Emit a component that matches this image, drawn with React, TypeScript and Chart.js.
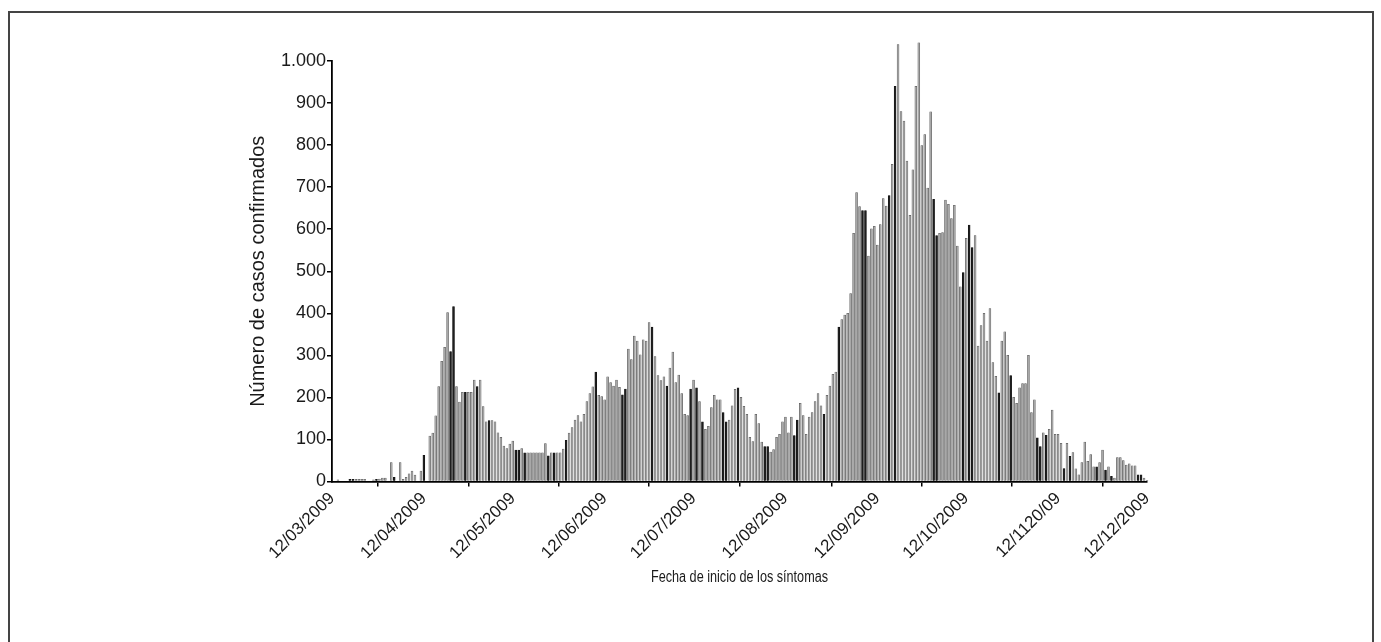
import { useEffect, useRef } from "react";
import { Chart, registerables } from "chart.js";

Chart.register(...registerables);

// Daily confirmed cases by symptom-onset date; index 0 = 12/03/2009, index 275 = 12/12/2009
const casesPerDay: number[] = [
  0, 0, 4, 0, 0, 0, 5, 5, 5, 5, 5, 5, 0, 0, 4, 5, 6, 8, 8, 0,
  45, 10, 0, 45, 5, 10, 18, 25, 15, 0, 25, 62, 0, 108, 115, 156, 226, 286, 319, 402,
  309, 416, 226, 189, 212, 212, 212, 212, 241, 226, 241, 178, 142, 145, 145, 142, 116, 105, 84, 78,
  89, 96, 75, 75, 78, 68, 68, 68, 68, 68, 68, 68, 90, 61, 68, 68, 68, 68, 77, 98,
  115, 128, 146, 157, 142, 160, 190, 209, 225, 260, 205, 202, 194, 249, 235, 227, 241, 224, 206, 220,
  315, 290, 346, 334, 301, 337, 334, 378, 367, 297, 252, 240, 249, 227, 270, 308, 235, 253, 209, 160,
  157, 220, 241, 223, 190, 142, 124, 131, 176, 205, 194, 194, 164, 142, 146, 180, 219, 223, 200, 179,
  160, 105, 95, 160, 138, 94, 83, 83, 70, 76, 105, 112, 142, 153, 116, 153, 109, 146, 186, 157,
  112, 153, 164, 190, 209, 180, 160, 205, 227, 255, 260, 367, 385, 396, 400, 447, 590, 687, 654, 644,
  644, 536, 601, 607, 562, 611, 673, 655, 680, 754, 940, 1039, 880, 857, 762, 633, 741, 940, 1043, 799,
  825, 698, 879, 671, 585, 590, 592, 669, 659, 625, 657, 560, 463, 497, 578, 610, 556, 585, 322, 371,
  400, 334, 411, 283, 250, 211, 334, 356, 300, 252, 200, 186, 223, 233, 233, 300, 164, 194, 104, 83,
  116, 110, 124, 170, 112, 112, 91, 31, 91, 60, 69, 30, 16, 45, 94, 48, 64, 35, 35, 45,
  75, 27, 35, 12, 8, 57, 57, 50, 39, 42, 37, 37, 16, 16, 8, 3,
];

// Days whose bars are printed in the darker shade
const darkDays: number[] = [
  6, 7, 15, 21, 31, 40, 41, 45, 49, 53, 62, 63, 65, 73, 75, 79, 89, 98, 99, 108,
  113, 121, 123, 125, 132, 133, 137, 146, 147, 156, 157, 166, 171, 179, 180, 188, 190, 203, 204, 213,
  215, 216, 225, 229, 238, 239, 241, 247, 249, 258, 261, 263, 272, 273,
];

const xTickDays: number[] = [0, 31, 61, 92, 122, 153, 184, 214, 245, 275];
const xTickLabels: string[] = [
  "12/03/2009", "12/04/2009", "12/05/2009", "12/06/2009", "12/07/2009",
  "12/08/2009", "12/09/2009", "12/10/2009", "12/1120/09", "12/12/2009",
];
const yTickValues: number[] = [0, 100, 200, 300, 400, 500, 600, 700, 800, 900, 1000];
const yTickLabels: string[] = ["0", "100", "200", "300", "400", "500", "600", "700", "800", "900", "1.000"];

const yTitle = "Número de casos confirmados";
const xTitle = "Fecha de inicio de los síntomas";

const W = 1381;
const H = 642;
const FONT = "'Liberation Sans', Arial, Helvetica, sans-serif";
const INK = "#1a1a1a";

// Horizontal axis title, set in a condensed face (regular glyphs squeezed horizontally)
const condensedXTitle = {
  id: "condensedXTitle",
  afterDraw(chart: any) {
    const { ctx, chartArea } = chart;
    const cx = (chartArea.left + chartArea.right) / 2;
    ctx.save();
    ctx.font = `16px ${FONT}`;
    ctx.fillStyle = INK;
    ctx.textAlign = "center";
    ctx.textBaseline = "middle";
    ctx.translate(cx, 578);
    ctx.scale(0.79, 1);
    ctx.fillText(xTitle, 0, 0);
    ctx.restore();
  },
};

export default function App() {
  const canvasRef = useRef<HTMLCanvasElement | null>(null);

  useEffect(() => {
    const canvas = canvasRef.current;
    if (!canvas) return;
    const dark = new Set(darkDays);

    const chart = new Chart(canvas, {
      type: "bar",
      data: {
        datasets: [
          {
            data: casesPerDay.map((v, i) => ({ x: i, y: v })),
            backgroundColor: casesPerDay.map((_, i) => (dark.has(i) ? "#1e1e1e" : "#a8a8a8")),
            borderColor: casesPerDay.map((_, i) => (dark.has(i) ? "#111111" : "#4c4c4c")),
            borderWidth: 0.5,
            borderSkipped: "start",
            barThickness: 1.9,
            clip: false,
          } as any,
        ],
      },
      options: {
        responsive: false,
        animation: false,
        layout: { padding: { left: 0, right: W - 1147, top: 61, bottom: 0 } },
        plugins: {
          legend: { display: false },
          tooltip: { enabled: false },
        },
        scales: {
          x: {
            type: "linear",
            min: 0,
            max: 275,
            offset: false,
            afterBuildTicks: (scale: any) => {
              scale.ticks = xTickDays.map((v) => ({ value: v }));
            },
            afterFit: (scale: any) => {
              scale.height = H - 481.5;
            },
            ticks: {
              autoSkip: false,
              minRotation: 45,
              maxRotation: 45,
              padding: 2,
              color: INK,
              font: { family: FONT, size: 17 },
              callback: (_v: any, i: number) => xTickLabels[i],
            },
            grid: { drawOnChartArea: false, drawTicks: true, tickLength: 5, color: "#000", lineWidth: 1.5 },
            border: { display: true, color: "#000", width: 1.8 },
          },
          y: {
            type: "linear",
            min: 0,
            max: 1000,
            afterBuildTicks: (scale: any) => {
              scale.ticks = yTickValues.map((v) => ({ value: v }));
            },
            afterFit: (scale: any) => {
              scale.width = 332;
            },
            ticks: {
              padding: 1,
              color: INK,
              font: { family: FONT, size: 18 },
              callback: (_v: any, i: number) => yTickLabels[i],
            },
            grid: { drawOnChartArea: false, drawTicks: true, tickLength: 5, color: "#000", lineWidth: 1.5 },
            border: { display: true, color: "#000", width: 1.8 },
            title: {
              display: true,
              text: yTitle,
              color: INK,
              font: { family: FONT, size: 20 },
              padding: { top: 246, bottom: 0 },
            },
          },
        },
      },
      plugins: [condensedXTitle],
    });

    return () => chart.destroy();
  }, []);

  return (
    <div style={{ position: "fixed", left: 0, top: 0, width: W, height: H, background: "#fff" }}>
      <div
        style={{
          position: "absolute",
          left: 8,
          top: 11,
          width: 1366,
          height: 640,
          border: "2px solid #444",
          boxSizing: "border-box",
        }}
      />
      <canvas ref={canvasRef} width={W} height={H} style={{ position: "absolute", left: 0, top: 0 }} />
    </div>
  );
}
